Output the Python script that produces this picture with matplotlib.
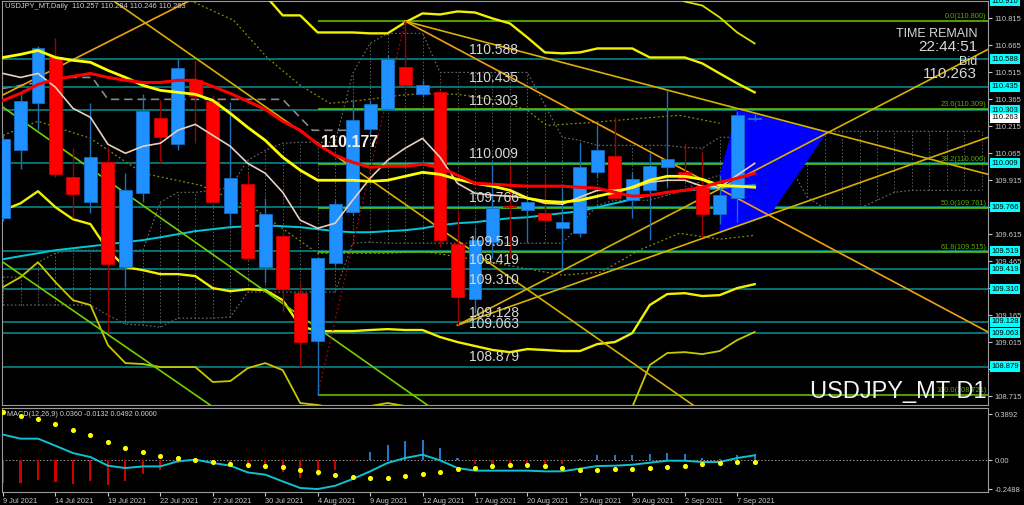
import numpy as np
import matplotlib
matplotlib.use("Agg")
import matplotlib.pyplot as plt
import matplotlib.transforms as mtransforms

plt.rcParams['font.family'] = ['Liberation Sans', 'DejaVu Sans']

# ---- candles (daily, 9 Jul .. 8 Sep 2021) ----
opens = [109.704, 110.082, 110.343, 110.598, 109.932, 109.793, 110.015, 109.432, 109.843, 110.259,
         110.115, 110.471, 110.354, 109.732, 109.893, 109.432, 109.604, 109.287, 109.021, 109.454,
         109.737, 110.198, 110.309, 110.543, 110.393, 110.404, 109.559, 109.254, 109.571, 109.770,
         109.748, 109.732, 109.648, 109.621, 109.960, 110.048, 109.804, 109.859, 109.987, 109.960,
         109.882, 109.726, 109.815, 110.257]
highs = [110.170, 110.398, 110.660, 110.704, 110.093, 110.343, 110.098, 109.954, 110.393, 110.359,
         110.593, 110.582, 110.387, 110.348, 109.954, 109.815, 109.621, 109.343, 109.490, 109.804,
         110.359, 110.359, 110.609, 110.800, 110.471, 110.415, 109.748, 109.654, 110.009, 109.998,
         109.832, 109.943, 109.876, 110.121, 110.221, 110.265, 109.960, 110.065, 110.415, 110.121,
         110.071, 109.943, 110.298, 110.284]
lows = [109.690, 109.976, 110.193, 109.932, 109.704, 109.732, 109.065, 109.321, 109.793, 110.009,
        110.082, 110.121, 109.793, 109.665, 109.471, 109.343, 109.182, 108.879, 108.721, 109.437,
        109.720, 110.165, 110.304, 110.432, 110.376, 109.543, 109.109, 109.176, 109.482, 109.482,
        109.571, 109.682, 109.415, 109.598, 109.932, 109.804, 109.704, 109.582, 109.876, 109.915,
        109.598, 109.671, 109.682, 110.246]
closes = [110.143, 110.354, 110.648, 109.948, 109.837, 110.043, 109.448, 109.859, 110.298, 110.154,
          110.537, 110.382, 109.793, 109.926, 109.482, 109.726, 109.309, 109.015, 109.482, 109.782,
          110.248, 110.337, 110.587, 110.443, 110.443, 109.582, 109.265, 109.582, 109.759, 109.765,
          109.793, 109.693, 109.682, 109.987, 110.082, 109.815, 109.921, 109.993, 110.032, 109.926,
          109.726, 109.832, 110.280, 110.263]

# ---- indicator lines ----
ma_red = [110.359, 110.398, 110.448, 110.476, 110.493, 110.509, 110.487, 110.471, 110.459, 110.459,
          110.471, 110.471, 110.437, 110.398, 110.354, 110.309, 110.243, 110.193, 110.115, 110.054,
          110.015, 109.987, 109.993, 109.993, 110.004, 109.987, 109.943, 109.898, 109.893, 109.887,
          109.882, 109.882, 109.882, 109.876, 109.871, 109.848, 109.826, 109.832, 109.848, 109.859,
          109.876, 109.904, 109.926, 109.954]
ma_yellow = [110.598, 110.615, 110.637, 110.598, 110.582, 110.571, 110.526, 110.487, 110.443, 110.415,
             110.404, 110.393, 110.359, 110.287, 110.209, 110.137, 110.043, 109.971, 109.915, 109.915,
             109.915, 109.909, 109.915, 109.937, 109.959, 109.948, 109.920, 109.898, 109.882, 109.859,
             109.815, 109.798, 109.793, 109.804, 109.826, 109.848, 109.876, 109.915, 109.937, 109.937,
             109.920, 109.887, 109.882, 109.876]
ma_fast = [110.509, 110.487, 110.509, 110.432, 110.315, 110.265, 110.115, 110.065, 110.104, 110.121,
           110.193, 110.226, 110.165, 110.104, 110.009, 109.954, 109.848, 109.693, 109.648, 109.676,
           109.804, 109.926, 110.026, 110.093, 110.148, 110.043, 109.898, 109.843, 109.832, 109.826,
           109.815, 109.787, 109.782, 109.821, 109.859, 109.859, 109.871, 109.904, 109.915, 109.915,
           109.882, 109.876, 109.943, 110.009]
ma_slow = [109.476, 109.493, 109.509, 109.526, 109.537, 109.548, 109.559, 109.571, 109.582, 109.598,
           109.615, 109.632, 109.643, 109.654, 109.659, 109.665, 109.659, 109.654, 109.643, 109.632,
           109.626, 109.626, 109.632, 109.637, 109.648, 109.665, 109.676, 109.682, 109.693, 109.704,
           109.709, 109.721, 109.732, 109.743, 109.765, 109.787, 109.809, 109.832, 109.848, 109.859,
           109.865, 109.871, 109.882, 109.887]
band_up = [111.45, 111.45, 111.42, 111.35, 111.30, 111.25, 111.20, 111.15, 111.10, 111.05,
           111.02, 111.00, 110.98, 110.96, 110.95, 110.943, 110.832, 110.832, 110.737, 110.737,
           110.737, 110.732, 110.732, 110.793, 110.843, 110.837, 110.854, 110.848, 110.815, 110.787,
           110.709, 110.626, 110.621, 110.626, 110.648, 110.648, 110.648, 110.598, 110.598, 110.598,
           110.565, 110.509, 110.454, 110.404]
band_lo = [109.748, 109.787, 109.854, 109.765, 109.698, 109.671, 109.526, 109.432, 109.415, 109.393,
           109.393, 109.382, 109.315, 109.298, 109.309, 109.304, 109.248, 109.104, 109.076, 109.076,
           109.076, 109.082, 109.087, 109.082, 109.082, 109.043, 109.015, 108.993, 108.971, 108.959,
           108.976, 108.971, 108.965, 108.965, 109.004, 109.015, 109.065, 109.221, 109.282, 109.287,
           109.271, 109.276, 109.315, 109.337]
band3_lo = [109.321, 109.376, 109.459, 109.348, 109.248, 109.221, 108.998, 108.898, 108.893, 108.876,
            108.876, 108.876, 108.793, 108.798, 108.870, 108.898, 108.859, 108.676, 108.665, 108.648,
            108.648, 108.659, 108.676, 108.659, 108.637, 108.609, 108.580, 108.550, 108.530, 108.520,
            108.520, 108.520, 108.530, 108.550, 108.580, 108.626, 108.654, 108.887, 108.954, 108.959,
            108.948, 108.965, 109.026, 109.071]
band3_up_bars = [38, 39, 40, 41, 42, 43]
band3_up = [110.960, 110.909, 110.887, 110.821, 110.737, 110.676]

# dotted envelopes (bar, price)
env_up_x = [10.7, 13.2, 15.1, 17.0, 18.7, 20.4, 22.7, 24.0, 26.0, 28.4, 30.0, 31.1, 33.8, 36.4, 38.7, 41.0]
env_up_y = [110.915, 110.804, 110.598, 110.443, 110.343, 110.359, 110.387, 110.398, 110.393, 110.359,
            110.304, 110.220, 110.237, 110.259, 110.276, 110.232]
env_lo_x = [0.0, 2.0, 5.0, 8.0, 11.3, 14.5, 18.0, 22.1, 24.0, 27.3, 32.0, 34.2, 36.4, 38.7, 41.0, 43.0]
env_lo_y = [110.165, 110.243, 110.148, 109.954, 109.887, 109.748, 109.509, 109.509, 109.520, 109.470,
            109.387, 109.404, 109.526, 109.620, 109.587, 109.609]
kijun_x = [0.0, 3.7, 5.1, 6.0, 16.0, 17.7, 20.3]
kijun_y = [110.426, 110.487, 110.487, 110.365, 110.365, 110.193, 110.193]

# cloud spans (bars 0..56)
span_top = [109.376, 109.376, 109.459, 109.509, 109.526, 109.526, 109.526, 109.526, 109.526, 109.793,
            109.848, 109.848, 109.859, 109.876, 110.026, 110.082, 110.121, 110.126, 110.126, 110.126,
            110.509, 110.676, 110.732, 110.732, 110.732, 110.515, 110.515, 110.515, 110.515, 110.515,
            110.515, 110.332, 110.154, 110.137, 110.109, 110.109, 110.109, 110.109, 110.109, 110.098,
            110.093, 110.154, 110.154, 110.137, 110.109, 110.187, 110.187, 110.187, 110.187, 110.187,
            110.187, 110.187, 110.187, 110.187, 110.187, 110.187, 110.187]
span_bot = [109.221, 109.221, 109.221, 109.221, 109.221, 109.221, 109.165, 109.115, 109.109, 109.098,
            109.148, 109.148, 109.148, 109.154, 109.293, 109.293, 109.293, 109.293, 109.293, 109.293,
            109.565, 109.571, 109.565, 109.565, 109.565, 109.565, 109.565, 109.565, 109.565, 109.565,
            109.565, 109.565, 109.565, 109.665, 109.776, 109.804, 109.804, 109.804, 109.832, 109.859,
            109.915, 109.943, 109.971, 110.026, 110.098, 109.998, 109.821, 109.759, 109.759, 109.759,
            109.804, 109.848, 109.859, 109.859, 109.859, 109.859, 109.859]

# trend lines (x0, y0, x1, y1) in bars / price
green_lines = [(0, 110.321, 24.43, 108.654), (0, 109.459, 12.01, 108.654)]
orange_lines = [(-0.3, 110.375, 10.7, 110.915), (23, 110.800, 56.35, 109.071)]
gold_lines = [(6.29, 110.915, 39.47, 108.665), (23, 110.800, 56.35, 109.948),
              (26, 109.109, 56.35, 110.643), (26, 109.109, 56.35, 110.154)]
fib_line = (18, 108.721, 23, 110.800)
triangle_x = [41.0, 41.0, 42.0, 47.14, 43.88]
triangle_y = [109.626, 109.943, 110.309, 110.182, 109.721]

levels = [110.910, 110.588, 110.435, 110.303, 110.009, 109.766, 109.519, 109.419, 109.310, 109.128,
          109.063, 108.879]
fib_levels = [110.800, 110.309, 110.006, 109.761, 109.515, 108.721]
fib_names = ['0.0', '23.6', '38.2', '50.0', '61.8', '100.0']
price_ticks = [110.815, 110.665, 110.515, 110.365, 110.215, 110.065, 109.915, 109.765, 109.615,
               109.465, 109.315, 109.165, 109.015, 108.865, 108.715]
# tick labels hidden behind the level boxes in the reference
hidden_ticks = [109.765, 109.315, 108.865]

# ---- MACD ----
macd_hist = [-0.195, -0.195, -0.167, -0.189, -0.200, -0.180, -0.209, -0.180, -0.116, -0.088,
             -0.025, -0.011, -0.031, -0.045, -0.054, -0.068, -0.105, -0.153, -0.133, -0.088,
             -0.005, 0.068, 0.130, 0.164, 0.172, 0.102, 0.017, -0.031, -0.040, -0.040,
             -0.040, -0.040, -0.034, 0.005, 0.040, 0.040, 0.045, 0.054, 0.059, 0.051,
             0.020, 0.011, 0.040, 0.049]
macd_line = [0.215, 0.181, 0.181, 0.121, 0.059, 0.025, -0.048, -0.068, -0.054, -0.054,
             -0.011, 0.003, -0.025, -0.048, -0.105, -0.124, -0.181, -0.237, -0.246, -0.218,
             -0.161, -0.096, -0.025, 0.017, 0.045, -0.003, -0.068, -0.090, -0.090, -0.090,
             -0.090, -0.096, -0.096, -0.073, -0.051, -0.048, -0.040, -0.023, -0.006, -0.006,
             -0.017, -0.017, 0.017, 0.040]
macd_dots = [0.404, 0.376, 0.347, 0.305, 0.257, 0.209, 0.153, 0.102, 0.068, 0.037,
             0.017, 0.000, -0.020, -0.031, -0.042, -0.054, -0.062, -0.085, -0.102, -0.124,
             -0.147, -0.155, -0.150, -0.136, -0.116, -0.099, -0.079, -0.068, -0.054, -0.045,
             -0.045, -0.054, -0.068, -0.082, -0.085, -0.079, -0.073, -0.068, -0.056, -0.048,
             -0.037, -0.028, -0.017, -0.013]
date_bars = [0, 3, 6, 9, 12, 15, 18, 21, 24, 27, 30, 33, 36, 39, 42]
date_labels = ['9 Jul 2021', '14 Jul 2021', '19 Jul 2021', '22 Jul 2021', '27 Jul 2021',
               '30 Jul 2021', '4 Aug 2021', '9 Aug 2021', '12 Aug 2021', '17 Aug 2021',
               '20 Aug 2021', '25 Aug 2021', '30 Aug 2021', '2 Sep 2021', '7 Sep 2021']

# ---------------------------------------------------------------
fig = plt.figure(figsize=(10.24, 5.05), dpi=100, facecolor='black')
W, H = 1024.0, 505.0
ax = fig.add_axes([2 / W, 1 - 405 / H, 986 / W, 404 / H], facecolor='black')
axm = fig.add_axes([2 / W, 1 - 492 / H, 986 / W, 84 / H], facecolor='black')

XMIN, XMAX = -0.06, 56.35
ax.set_xlim(XMIN, XMAX)
ax.set_ylim(108.665, 110.912)
axm.set_xlim(XMIN, XMAX)
axm.set_ylim(-0.271, 0.4407)

bars = np.arange(len(opens))
gbars = np.arange(len(span_top))

# cloud (dotted grey)
ax.plot(gbars, span_top, color='#6e6e6e', lw=0.8, ls=(0, (1.5, 2)), zorder=1)
ax.plot(gbars, span_bot, color='#6e6e6e', lw=0.8, ls=(0, (1.5, 2)), zorder=1)
ax.vlines(gbars, span_bot, span_top, color='#5e5e5e', lw=0.7, linestyles=(0, (1.5, 2)), zorder=1)
ax.plot(kijun_x, kijun_y, color='#8a8a8a', lw=1.2, ls=(0, (5, 3)), zorder=1)
ax.plot(env_up_x, env_up_y, color='#8c8c00', lw=0.9, ls=(0, (1.5, 2)), zorder=1)
ax.plot(env_lo_x, env_lo_y, color='#8c8c00', lw=0.9, ls=(0, (1.5, 2)), zorder=1)

# horizontal levels
for lv in levels:
    ax.axhline(lv, color='#089090', lw=1.1, zorder=2)
for lv in fib_levels:
    ax.hlines(lv, 18, XMAX, color='#66cc00', lw=1.1, zorder=2)

# triangle
ax.fill(triangle_x, triangle_y, color='#0000ff', lw=0, zorder=2.2)

# bands / mas
ax.plot(bars[:len(band3_lo)], band3_lo, color='#c8c800', lw=1.3, zorder=3)
ax.plot(band3_up_bars, band3_up, color='#e0e000', lw=1.3, zorder=3)
ax.plot(bars, band_up, color='#f0f000', lw=1.7, zorder=3)
ax.plot(bars, band_lo, color='#f0f000', lw=1.7, zorder=3)
ax.plot(bars, ma_slow, color='#00c8d8', lw=1.4, zorder=3)

# trendlines
for x0, y0, x1, y1 in green_lines:
    ax.plot([x0, x1], [y0, y1], color='#70d000', lw=1.2, zorder=3)
for x0, y0, x1, y1 in orange_lines:
    ax.plot([x0, x1], [y0, y1], color='#f0a010', lw=1.2, zorder=3)
for x0, y0, x1, y1 in gold_lines:
    ax.plot([x0, x1], [y0, y1], color='#d8b000', lw=1.2, zorder=3)
ax.plot([fib_line[0], fib_line[2]], [fib_line[1], fib_line[3]], color='#b00000', lw=0.9,
        ls=(0, (1.5, 2)), zorder=3)

# candles
up_body, dn_body = '#1e90ff', '#ff0000'
up_wick, dn_wick = '#1f6fb5', '#a00000'
for i in bars:
    o, h, l, c = opens[i], highs[i], lows[i], closes[i]
    bull = c >= o
    ax.vlines(i, l, h, color=up_wick if bull else dn_wick, lw=1.0, zorder=4)
    bot = min(o, c)
    ht = max(abs(c - o), 0.006)
    ax.bar(i, ht, bottom=bot, width=0.74, color=up_body if bull else dn_body,
           edgecolor='#1570c8' if bull else '#d00000', lw=0.6, zorder=5)

ax.plot(bars, ma_fast, color='#e6cfc0', lw=1.2, zorder=6)
ax.plot(bars, ma_yellow, color='#ffff00', lw=2.0, zorder=6)
ax.plot(bars, ma_red, color='#ff0000', lw=2.2, zorder=6)

# level labels on chart
for lv in levels[1:]:
    ax.annotate(f'{lv:.3f}', (26.66, lv), xytext=(0, 1.5), textcoords='offset points',
                color='#d8d8d8', fontsize=10, ha='left', va='bottom', zorder=7)
for lv, nm in zip(fib_levels, fib_names):
    ax.annotate(f'{nm}({lv:.3f})', (XMAX, lv), xytext=(-1, 1), textcoords='offset points',
                color='#5aa800', fontsize=5.3, ha='right', va='bottom', zorder=7)
ax.text(19.85, 110.126, '110.177', color='#f5ece2', fontsize=11.5, fontweight='bold',
        ha='center', va='center', zorder=7)

# info texts
ax.text(0.0035, 0.995, 'USDJPY_MT,Daily  110.257 110.284 110.246 110.263', transform=ax.transAxes,
        color='#d0d0d0', fontsize=5.4, ha='left', va='top', zorder=8)
ax.text(0.989, 1 - 33 / 404, 'TIME REMAIN', transform=ax.transAxes, color='#d8d8d8', fontsize=9,
        ha='right', va='center', zorder=8)
ax.text(0.989, 1 - 46 / 404, '22:44:51', transform=ax.transAxes, color='#d8d8d8', fontsize=11,
        ha='right', va='center', zorder=8)
ax.text(0.989, 1 - 61 / 404, 'Bid', transform=ax.transAxes, color='#d8d8d8', fontsize=9,
        ha='right', va='center', zorder=8)
ax.text(0.989, 1 - 73 / 404, '110.263', transform=ax.transAxes, color='#d8d8d8', fontsize=11,
        ha='right', va='center', zorder=8)
ax.text(0.999, 1 - 391 / 404, 'USDJPY_MT D1', transform=ax.transAxes, color='#f4f4f4', fontsize=17,
        ha='right', va='center', zorder=8)

# right price axis
ax.yaxis.tick_right()
ax.set_yticks(price_ticks)
ax.set_yticklabels(['' if t in hidden_ticks else f'{t:.3f}' for t in price_ticks])
ax.tick_params(axis='y', colors='#c8c8c8', labelsize=5.5, length=3, pad=2)
ax.set_xticks([])
trans = mtransforms.blended_transform_factory(ax.transAxes, ax.transData)
for lv in levels:
    ax.text(1.0035, lv, f'{lv:.3f}', transform=trans, color='black', fontsize=5.5, ha='left',
            va='center', clip_on=False, zorder=9,
            bbox=dict(boxstyle='square,pad=0.2', fc='#00ffff', ec='none'))
ax.text(1.0035, 110.263, '110.263', transform=trans, color='black', fontsize=5.5, ha='left',
        va='center', clip_on=False, zorder=9,
        bbox=dict(boxstyle='square,pad=0.2', fc='white', ec='none'))
for sp in ax.spines.values():
    sp.set_color('#9a9a9a')

# MACD panel
hist_cols = ['#1f78c8' if v > 0 else '#d00000' for v in macd_hist]
axm.bar(bars, macd_hist, width=0.12, color=hist_cols, zorder=2)
axm.axhline(0, color='#9a9a9a', lw=0.7, ls=(0, (1.5, 2)), zorder=1)
axm.plot(bars, macd_line, color='#10c0d0', lw=1.4, zorder=3)
axm.scatter(bars, macd_dots, s=7, color='#ffff00', zorder=4)
axm.text(0.005, 0.96, 'MACD(12,26,9) 0.0360 -0.0132 0.0492 0.0000', transform=axm.transAxes,
         color='#d0d0d0', fontsize=5.2, ha='left', va='top')
axm.yaxis.tick_right()
axm.set_yticks([0.3892, 0.0, -0.2488])
axm.set_yticklabels(['0.3892', '0.00', '-0.2488'])
axm.tick_params(axis='y', colors='#c8c8c8', labelsize=5.5, length=3, pad=2)
axm.set_xticks(date_bars)
axm.set_xticklabels(date_labels)
for lab in axm.get_xticklabels():
    lab.set_horizontalalignment('left')
axm.tick_params(axis='x', colors='#c8c8c8', labelsize=5.3, length=3, pad=1.5)
for sp in axm.spines.values():
    sp.set_color('#9a9a9a')

fig.savefig('out.png', dpi=100, facecolor='black')
